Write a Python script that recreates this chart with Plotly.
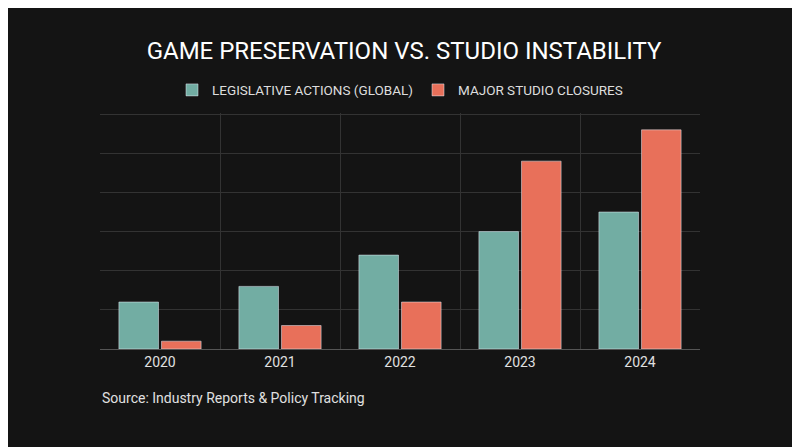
import plotly.graph_objects as go

years = ["2020", "2021", "2022", "2023", "2024"]
legislative = [12, 16, 24, 30, 35]
closures = [2, 6, 12, 48, 56]

FONT = "Liberation Sans Narrow, Roboto, sans-serif"

fig = go.Figure()
fig.add_trace(go.Bar(x=years, y=legislative, name="LEGISLATIVE ACTIONS (GLOBAL)",
                     marker=dict(color="#72ada3")))
fig.add_trace(go.Bar(x=years, y=closures, name="MAJOR STUDIO CLOSURES",
                     marker=dict(color="#e8705a")))
# invisible helper trace so the category-boundary grid has an axis
fig.add_trace(go.Scatter(x=[-0.5, 4.5], y=[0, 0], xaxis="x2", mode="markers",
                         marker=dict(opacity=0), showlegend=False, hoverinfo="skip"))

fig.update_layout(
    width=792, height=439,
    paper_bgcolor="#141414", plot_bgcolor="#141414",
    font=dict(family=FONT, color="#e8e8e8", size=14),
    title=dict(text="GAME PRESERVATION VS. STUDIO INSTABILITY", x=0.5, y=0.904,
               xanchor="center", yanchor="middle", font=dict(size=24, color="#ffffff")),
    legend=dict(orientation="h", x=0.5, xanchor="center", y=1.097, yanchor="middle",
                font=dict(size=13.5, color="#dddddd"), bgcolor="rgba(0,0,0,0)"),
    margin=dict(l=92, r=100, t=105, b=98),
    bargap=0.29, bargroupgap=0.07,
    xaxis=dict(showgrid=False, showline=True, linecolor="#555555", ticks="",
               tickfont=dict(size=14, color="#e0e0e0")),
    xaxis2=dict(overlaying="x", range=[-0.5, 4.5], tick0=-0.5, dtick=1,
                showgrid=True, gridcolor="#333333", showticklabels=False,
                zeroline=False),
    yaxis=dict(range=[0, 60.3], dtick=10, showgrid=True, gridcolor="#333333",
               showticklabels=False, zeroline=False),
    annotations=[dict(text="Source: Industry Reports & Policy Tracking", xref="paper",
                      yref="paper", x=0, y=-0.208, xanchor="left", yanchor="middle",
                      showarrow=False, font=dict(size=14, color="#e0e0e0"))],
)

fig.write_html("out.html")
